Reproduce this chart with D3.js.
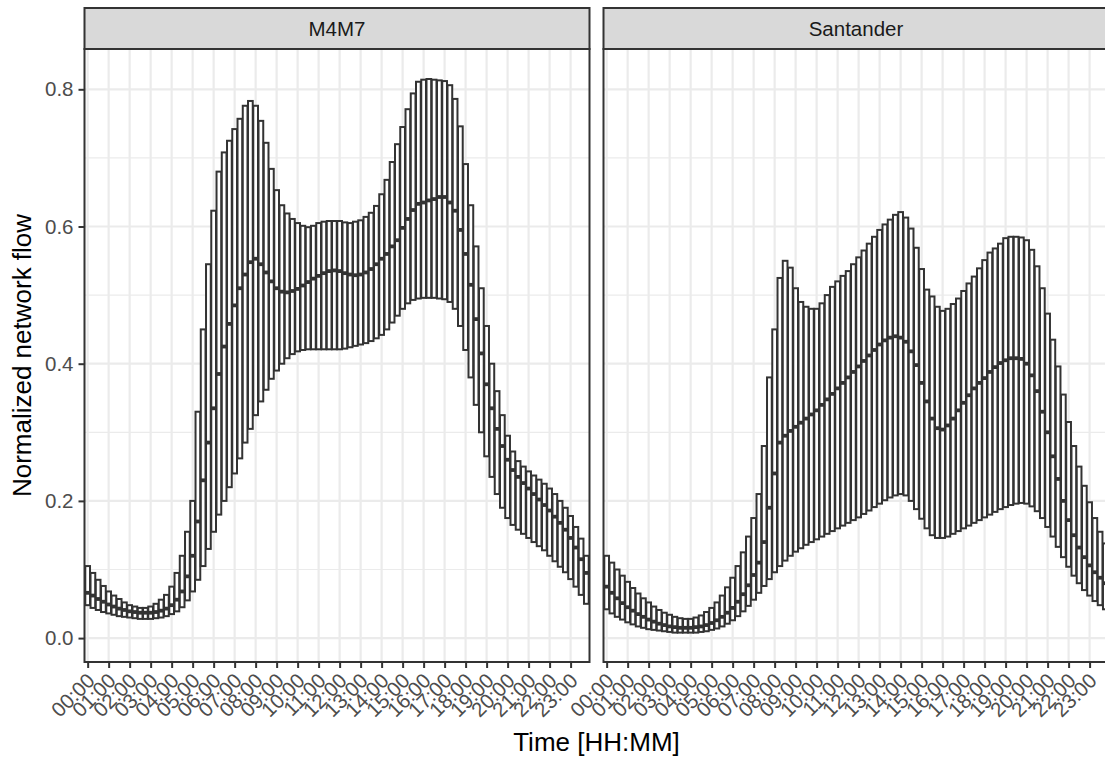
<!DOCTYPE html>
<html>
<head>
<meta charset="utf-8">
<script src="https://cdn.jsdelivr.net/npm/d3@7/dist/d3.min.js"></script>
<style>
  body { margin: 0; background: #fff; }
  svg { display: block; font-family: "Liberation Sans", Arial, sans-serif; }
</style>
</head>
<body>
<div id="chart"></div>
<script>
// categories: one box every 15 minutes, labels only on the hour
const hourLabels = d3.range(24).map(h => String(h).padStart(2, "0") + ":00");
const slots = [];
hourLabels.forEach(h => ["00", "15", "30", "45"].forEach(m => slots.push(h.slice(0, 3) + m)));

const facets = ["M4M7", "Santander"];
const yTicks = [0, 0.2, 0.4, 0.6, 0.8];
const yMinor = [0.1, 0.3, 0.5, 0.7];

// M4M7 — one row per hour (4 boxes)
const m4m7Upper = [
  0.105, 0.095, 0.085, 0.076,  0.068, 0.062, 0.057, 0.052,  0.048, 0.046, 0.044, 0.044,
  0.046, 0.050, 0.056, 0.063,  0.075, 0.095, 0.120, 0.155,  0.200, 0.330, 0.450, 0.545,
  0.623, 0.680, 0.708, 0.725,  0.742, 0.757, 0.776, 0.783,  0.776, 0.754, 0.722, 0.684,
  0.653, 0.631, 0.619, 0.611,  0.605, 0.601, 0.599, 0.601,  0.605, 0.607, 0.608, 0.608,
  0.608, 0.606, 0.605, 0.607,  0.609, 0.614, 0.620, 0.630,  0.647, 0.668, 0.694, 0.720,
  0.745, 0.771, 0.794, 0.811,  0.814, 0.815, 0.814, 0.813,  0.812, 0.806, 0.786, 0.746,
  0.691, 0.631, 0.571, 0.510,  0.455, 0.400, 0.360, 0.325,  0.295, 0.272, 0.258, 0.250,
  0.243, 0.237, 0.231, 0.225,  0.218, 0.210, 0.200, 0.190,  0.178, 0.162, 0.145, 0.120
];
const m4m7Median = [
  0.066, 0.062, 0.057, 0.053,  0.049, 0.046, 0.043, 0.041,  0.039, 0.038, 0.037, 0.037,
  0.037, 0.038, 0.040, 0.043,  0.048, 0.056, 0.068, 0.090,  0.120, 0.170, 0.230, 0.285,
  0.335, 0.385, 0.425, 0.458,  0.485, 0.510, 0.530, 0.548,  0.553, 0.545, 0.533, 0.520,
  0.510, 0.505, 0.504, 0.506,  0.509, 0.514, 0.519, 0.524,  0.528, 0.532, 0.535, 0.536,
  0.535, 0.532, 0.530, 0.529,  0.530, 0.533, 0.538, 0.545,  0.553, 0.560, 0.571, 0.580,
  0.598, 0.611, 0.624, 0.633,  0.635, 0.638, 0.640, 0.643,  0.643, 0.635, 0.623, 0.595,
  0.560, 0.515, 0.465, 0.415,  0.370, 0.335, 0.305, 0.280,  0.260, 0.245, 0.235, 0.226,
  0.218, 0.210, 0.202, 0.194,  0.186, 0.177, 0.168, 0.158,  0.146, 0.132, 0.115, 0.095
];
const m4m7Lower = [
  0.048, 0.044, 0.041, 0.038,  0.036, 0.034, 0.032, 0.031,  0.030, 0.029, 0.028, 0.028,
  0.028, 0.029, 0.030, 0.032,  0.035, 0.039, 0.045, 0.055,  0.068, 0.085, 0.105, 0.130,
  0.155, 0.180, 0.200, 0.220,  0.240, 0.262, 0.285, 0.305,  0.325, 0.345, 0.362, 0.378,
  0.390, 0.400, 0.408, 0.414,  0.418, 0.420, 0.421, 0.421,  0.421, 0.421, 0.421, 0.421,
  0.421, 0.422, 0.424, 0.426,  0.428, 0.430, 0.433, 0.437,  0.442, 0.450, 0.460, 0.470,
  0.480, 0.488, 0.493, 0.495,  0.496, 0.496, 0.496, 0.495,  0.494, 0.490, 0.480, 0.455,
  0.420, 0.380, 0.340, 0.300,  0.265, 0.235, 0.210, 0.190,  0.175, 0.165, 0.158, 0.152,
  0.146, 0.140, 0.134, 0.128,  0.120, 0.112, 0.104, 0.096,  0.086, 0.075, 0.063, 0.050
];

// Santander
const santUpper = [
  0.120, 0.110, 0.100, 0.091,  0.082, 0.073, 0.065, 0.058,  0.052, 0.046, 0.041, 0.037,
  0.034, 0.031, 0.029, 0.028,  0.028, 0.030, 0.033, 0.038,  0.044, 0.052, 0.062, 0.074,
  0.088, 0.105, 0.125, 0.148,  0.175, 0.210, 0.280, 0.380,  0.450, 0.525, 0.550, 0.540,
  0.510, 0.490, 0.483, 0.480,  0.480, 0.488, 0.500, 0.512,  0.520, 0.528, 0.535, 0.545,
  0.555, 0.565, 0.575, 0.585,  0.595, 0.603, 0.610, 0.617,  0.621, 0.613, 0.597, 0.569,
  0.538, 0.508, 0.498, 0.483,  0.477, 0.480, 0.487, 0.495,  0.506, 0.517, 0.527, 0.539,
  0.551, 0.562, 0.568, 0.575,  0.583, 0.585, 0.585, 0.584,  0.580, 0.566, 0.542, 0.510,
  0.473, 0.435, 0.396, 0.355,  0.315, 0.280, 0.250, 0.222,  0.198, 0.175, 0.155, 0.138
];
const santMedian = [
  0.075, 0.066, 0.058, 0.051,  0.045, 0.040, 0.035, 0.031,  0.027, 0.024, 0.021, 0.019,
  0.017, 0.016, 0.015, 0.015,  0.015, 0.016, 0.017, 0.019,  0.022, 0.026, 0.031, 0.037,
  0.044, 0.053, 0.064, 0.077,  0.092, 0.110, 0.140, 0.190,  0.240, 0.285, 0.295, 0.302,
  0.308, 0.314, 0.320, 0.326,  0.332, 0.340, 0.348, 0.356,  0.364, 0.372, 0.380, 0.388,
  0.396, 0.404, 0.412, 0.420,  0.428, 0.434, 0.438, 0.440,  0.438, 0.432, 0.418, 0.398,
  0.372, 0.345, 0.320, 0.306,  0.304, 0.310, 0.320, 0.332,  0.343, 0.354, 0.364, 0.372,
  0.379, 0.388, 0.395, 0.401,  0.405, 0.408, 0.408, 0.407,  0.400, 0.383, 0.360, 0.330,
  0.300, 0.265, 0.232, 0.200,  0.172, 0.150, 0.132, 0.118,  0.106, 0.096, 0.088, 0.080
];
const santLower = [
  0.042, 0.036, 0.031, 0.027,  0.023, 0.020, 0.017, 0.015,  0.013, 0.012, 0.011, 0.010,
  0.009, 0.008, 0.008, 0.008,  0.008, 0.008, 0.009, 0.010,  0.012, 0.014, 0.017, 0.021,
  0.026, 0.032, 0.039, 0.047,  0.056, 0.066, 0.076, 0.086,  0.096, 0.105, 0.113, 0.120,
  0.126, 0.131, 0.136, 0.140,  0.144, 0.148, 0.152, 0.156,  0.160, 0.164, 0.168, 0.172,
  0.176, 0.181, 0.186, 0.191,  0.196, 0.201, 0.205, 0.208,  0.210, 0.208, 0.200, 0.188,
  0.174, 0.160, 0.150, 0.146,  0.146, 0.148, 0.152, 0.156,  0.160, 0.164, 0.168, 0.172,
  0.176, 0.180, 0.184, 0.188,  0.191, 0.194, 0.196, 0.197,  0.196, 0.192, 0.185, 0.175,
  0.162, 0.148, 0.133, 0.118,  0.104, 0.091, 0.080, 0.070,  0.062, 0.054, 0.048, 0.042
];

const seriesByFacet = {
  "M4M7": { upper: m4m7Upper, median: m4m7Median, lower: m4m7Lower },
  "Santander": { upper: santUpper, median: santMedian, lower: santLower }
};

/* layout */
const width = 1105, height = 760;
const stripTop = 8, panelTop = 49, panelBottom = 662;
const panelW = 505;
const panelLefts = [84.5, 603.5];
const ink = "#333333";
const tickFont = 20.5;

const svg = d3.select("#chart").append("svg")
  .attr("width", width)
  .attr("height", height);

const x = d3.scalePoint()
  .domain(slots)
  .range([0, panelW])
  .padding(0.6);
const boxW = x.step() * 0.9;

const y = d3.scaleLinear()
  .domain([0, 0.8])
  .range([638.1, 89.3]);

facets.forEach((name, p) => {
  const left = panelLefts[p];
  const data = seriesByFacet[name];
  const g = svg.append("g").attr("transform", `translate(${left},0)`);

  // grid
  g.selectAll("line.ygmin").data(yMinor).join("line")
    .attr("x1", 0).attr("x2", panelW)
    .attr("y1", d => y(d)).attr("y2", d => y(d))
    .attr("stroke", "#EBEBEB").attr("stroke-width", 1.2);
  g.selectAll("line.ygmaj").data(yTicks).join("line")
    .attr("x1", 0).attr("x2", panelW)
    .attr("y1", d => y(d)).attr("y2", d => y(d))
    .attr("stroke", "#EBEBEB").attr("stroke-width", 2.2);
  g.selectAll("line.xg").data(hourLabels).join("line")
    .attr("x1", d => x(d)).attr("x2", d => x(d))
    .attr("y1", panelTop).attr("y2", panelBottom)
    .attr("stroke", "#EBEBEB").attr("stroke-width", 2.2);

  // boxes
  const boxes = g.selectAll("g.box").data(slots).join("g").attr("class", "box");
  boxes.append("rect")
    .attr("x", d => x(d) - boxW / 2)
    .attr("width", boxW)
    .attr("y", (d, i) => y(data.upper[i]))
    .attr("height", (d, i) => y(data.lower[i]) - y(data.upper[i]))
    .attr("fill", "#fff")
    .attr("stroke", ink)
    .attr("stroke-width", 2);
  boxes.append("line")
    .attr("x1", d => x(d) - boxW / 2)
    .attr("x2", d => x(d) + boxW / 2)
    .attr("y1", (d, i) => y(data.median[i]))
    .attr("y2", (d, i) => y(data.median[i]))
    .attr("stroke", ink)
    .attr("stroke-width", 3.8);

  // panel border
  g.append("rect")
    .attr("x", 0).attr("y", panelTop)
    .attr("width", panelW).attr("height", panelBottom - panelTop)
    .attr("fill", "none").attr("stroke", ink).attr("stroke-width", 2);

  // strip
  g.append("rect")
    .attr("x", 0).attr("y", stripTop)
    .attr("width", panelW).attr("height", panelTop - stripTop)
    .attr("fill", "#D9D9D9").attr("stroke", ink).attr("stroke-width", 2);
  g.append("text")
    .attr("x", panelW / 2).attr("y", (stripTop + panelTop) / 2)
    .attr("text-anchor", "middle").attr("dominant-baseline", "central")
    .attr("fill", "#1A1A1A").attr("font-size", tickFont)
    .text(name);

  // x axis
  const xAxis = d3.axisBottom(x).tickValues(hourLabels).tickSize(6).tickPadding(4);
  const xg = g.append("g")
    .attr("transform", `translate(0,${panelBottom})`)
    .call(xAxis);
  xg.select(".domain").remove();
  xg.selectAll(".tick line").attr("stroke", ink).attr("stroke-width", 2);
  xg.selectAll(".tick text")
    .attr("fill", "#4D4D4D").attr("font-size", tickFont)
    .attr("font-family", "Liberation Sans, Arial, sans-serif")
    .attr("text-anchor", "end")
    .attr("dy", null)
    .attr("y", 0)
    .attr("transform", "translate(8,20) rotate(-45)");
});

// y axis on the first panel
const yAxis = d3.axisLeft(y).tickValues(yTicks).tickFormat(d3.format(".1f")).tickSize(6).tickPadding(5);
const yg = svg.append("g")
  .attr("transform", `translate(${panelLefts[0]},0)`)
  .call(yAxis);
yg.select(".domain").remove();
yg.selectAll(".tick line").attr("stroke", ink).attr("stroke-width", 2);
yg.selectAll(".tick text")
  .attr("fill", "#4D4D4D").attr("font-size", tickFont)
  .attr("font-family", "Liberation Sans, Arial, sans-serif");

// axis titles
svg.append("text")
  .attr("x", (panelLefts[0] + panelLefts[1] + panelW) / 2)
  .attr("y", 751)
  .attr("text-anchor", "middle")
  .attr("font-size", 26).attr("fill", "#000")
  .text("Time [HH:MM]");
svg.append("text")
  .attr("transform", `translate(31,${(panelTop + panelBottom) / 2}) rotate(-90)`)
  .attr("text-anchor", "middle")
  .attr("font-size", 26).attr("fill", "#000")
  .text("Normalized network flow");
</script>
</body>
</html>
